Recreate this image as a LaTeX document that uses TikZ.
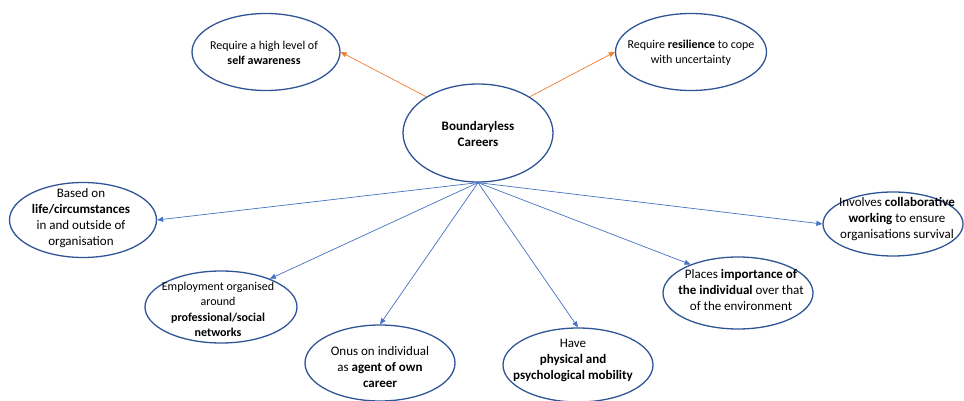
\documentclass[tikz,border=0pt]{standalone}
\usepackage{fontspec}
\setmainfont{Carlito}
\usetikzlibrary{shapes.geometric,arrows.meta}
\definecolor{ovalblue}{HTML}{2F5597}
\definecolor{lineblue}{HTML}{4472C4}
\definecolor{lineorange}{HTML}{ED7D31}
\tikzset{
  oval/.style={ellipse, draw=ovalblue, line width=1.3pt, inner sep=0pt},
  txt/.style={align=center, inner sep=0pt, font=\fontsize{13}{16}\selectfont},
  txts/.style={align=center, inner sep=0pt, font=\fontsize{12}{15.5}\selectfont},
  bluearrow/.style={draw=lineblue, line width=0.7pt, -{Triangle[length=6pt,width=5pt]}},
  orangearrow/.style={draw=lineorange, line width=0.7pt, -{Triangle[length=6pt,width=5pt]}}
}
\begin{document}
\begin{tikzpicture}[x=1pt,y=-1pt]
\useasboundingbox (0,0) rectangle (964,401);
% ovals
\node[oval, minimum width=150pt, minimum height=98pt] (bc) at (478,133) {};
\node[oval, minimum width=148pt, minimum height=77pt] (sa) at (266,52) {};
\node[oval, minimum width=151pt, minimum height=77pt] (res) at (691,52) {};
\node[oval, minimum width=147pt, minimum height=75pt] (life) at (83,220) {};
\node[oval, minimum width=140pt, minimum height=64pt] (collab) at (893,224) {};
\node[oval, minimum width=152pt, minimum height=72pt] (emp) at (221,307) {};
\node[oval, minimum width=150pt, minimum height=76pt] (onus) at (380,363) {};
\node[oval, minimum width=150pt, minimum height=74pt] (have) at (578,365) {};
\node[oval, minimum width=150pt, minimum height=72pt] (places) at (738,293) {};
% texts
\node[txt] (tbc) at (478,133.5) {\textbf{Boundaryless}\\\textbf{Careers}};
\node[txts] (tsa) at (264,53) {Require a high level of\\\textbf{self awareness}};
\node[txts] (tres) at (691,53) {Require \textbf{resilience} to cope\\with uncertainty};
\node[txt] (tlife) at (81,218.5) {Based on\\\textbf{life/circumstances}\\in and outside of\\organisation};
\node[txt] (tcollab) at (897,219) {Involves \textbf{collaborative}\\\textbf{working} to ensure\\organisations survival};
\node[txts] (temp) at (218,309.5) {Employment organised\\around\\\textbf{professional/social}\\\textbf{networks}};
\node[txt] (tonus) at (380,367) {Onus on individual\\as \textbf{agent of own}\\\textbf{career}};
\node[txt] (thave) at (573,360) {Have\\\textbf{physical and}\\\textbf{psychological mobility}};
\node[txt] (tplaces) at (741,290) {Places \textbf{importance of}\\\textbf{the individual} over that\\of the environment};
% connectors
\draw[orangearrow] (bc.145) -- (sa.east);
\draw[orangearrow] (bc.35) -- (res.west);
\draw[bluearrow] (bc.south) -- (life.east);
\draw[bluearrow] (bc.south) -- (emp.30);
\draw[bluearrow] (bc.south) -- (onus.north);
\draw[bluearrow] (bc.south) -- (have.north);
\draw[bluearrow] (bc.south) -- (places.149);
\draw[bluearrow] (bc.south) -- (collab.west);
\end{tikzpicture}
\end{document}
